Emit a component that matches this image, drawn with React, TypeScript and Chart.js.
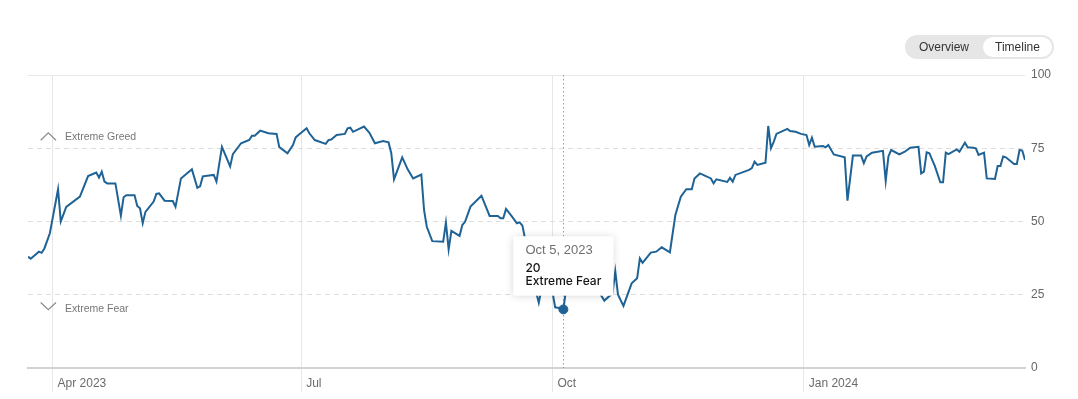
import React, { useEffect, useRef } from "react";
import { Chart, registerables } from "chart.js";

Chart.register(...registerables);

const dates = [
  "2023-03-23", "2023-03-24", "2023-03-27", "2023-03-28", "2023-03-29", "2023-03-31",
  "2023-04-03", "2023-04-04", "2023-04-06", "2023-04-11", "2023-04-14", "2023-04-17",
  "2023-04-18", "2023-04-19", "2023-04-20", "2023-04-21", "2023-04-24", "2023-04-26",
  "2023-04-27", "2023-04-28", "2023-05-01", "2023-05-02", "2023-05-03", "2023-05-04",
  "2023-05-05", "2023-05-08", "2023-05-09", "2023-05-10", "2023-05-12", "2023-05-15",
  "2023-05-16", "2023-05-18", "2023-05-22", "2023-05-24", "2023-05-25", "2023-05-26",
  "2023-05-30", "2023-05-31", "2023-06-02", "2023-06-05", "2023-06-06", "2023-06-09",
  "2023-06-12", "2023-06-13", "2023-06-14", "2023-06-16", "2023-06-19", "2023-06-22",
  "2023-06-23", "2023-06-26", "2023-06-28", "2023-06-29", "2023-06-30", "2023-07-03",
  "2023-07-04", "2023-07-06", "2023-07-10", "2023-07-11", "2023-07-12", "2023-07-14",
  "2023-07-17", "2023-07-18", "2023-07-19", "2023-07-20", "2023-07-24", "2023-07-26",
  "2023-07-28", "2023-07-31", "2023-08-02", "2023-08-03", "2023-08-04", "2023-08-07",
  "2023-08-09", "2023-08-11", "2023-08-14", "2023-08-15", "2023-08-16", "2023-08-18",
  "2023-08-22", "2023-08-23", "2023-08-24", "2023-08-25", "2023-08-28", "2023-08-29",
  "2023-08-30", "2023-09-01", "2023-09-05", "2023-09-08", "2023-09-11", "2023-09-12",
  "2023-09-13", "2023-09-14", "2023-09-16", "2023-09-18", "2023-09-19", "2023-09-20",
  "2023-09-21", "2023-09-22", "2023-09-24", "2023-09-25", "2023-09-26", "2023-09-27",
  "2023-09-29", "2023-10-01", "2023-10-02", "2023-10-04", "2023-10-05", "2023-10-06",
  "2023-10-07", "2023-10-09", "2023-10-11", "2023-10-13", "2023-10-15", "2023-10-17",
  "2023-10-18", "2023-10-20", "2023-10-23", "2023-10-24", "2023-10-25", "2023-10-27",
  "2023-10-30", "2023-11-01", "2023-11-02", "2023-11-03", "2023-11-06", "2023-11-08",
  "2023-11-10", "2023-11-13", "2023-11-15", "2023-11-17", "2023-11-19", "2023-11-21",
  "2023-11-22", "2023-11-24", "2023-11-28", "2023-11-29", "2023-11-30", "2023-12-04",
  "2023-12-05", "2023-12-06", "2023-12-07", "2023-12-12", "2023-12-13", "2023-12-14",
  "2023-12-15", "2023-12-18", "2023-12-19", "2023-12-20", "2023-12-21", "2023-12-22",
  "2023-12-26", "2023-12-27", "2023-12-29", "2023-12-31", "2024-01-02", "2024-01-03",
  "2024-01-04", "2024-01-05", "2024-01-08", "2024-01-09", "2024-01-10", "2024-01-12",
  "2024-01-16", "2024-01-17", "2024-01-19", "2024-01-22", "2024-01-23", "2024-01-24",
  "2024-01-26", "2024-01-30", "2024-01-31", "2024-02-01", "2024-02-02", "2024-02-05",
  "2024-02-07", "2024-02-09", "2024-02-12", "2024-02-13", "2024-02-14", "2024-02-15",
  "2024-02-16", "2024-02-18", "2024-02-20", "2024-02-21", "2024-02-22", "2024-02-23",
  "2024-02-26", "2024-02-27", "2024-02-29", "2024-03-01", "2024-03-03", "2024-03-04",
  "2024-03-05", "2024-03-07", "2024-03-08", "2024-03-11", "2024-03-12", "2024-03-13",
  "2024-03-14", "2024-03-15", "2024-03-18", "2024-03-19", "2024-03-20", "2024-03-21",
  "2024-03-22",
];

const values = [
  38, 37.3, 39.7, 39.3, 40.8, 46,
  61, 50, 55, 58.5, 65.5, 66.7,
  65, 67, 63.6, 63, 63, 52,
  58.3, 59, 59, 55.3, 54.5, 49.4,
  53.3, 56.8, 59.4, 59.6, 57.1, 57,
  55, 64.7, 67.8, 61.5, 62, 65.4,
  65.9, 63.6, 75.5, 68.8, 73, 76.7,
  77.8, 79.3, 79.3, 81, 80.1, 79.9,
  75.4, 73.3, 76.1, 78.7, 79.5, 81.8,
  80.1, 77.8, 76.5, 77.8, 78, 79.5,
  79.9, 81.8, 82, 80.6, 82.4, 80.3,
  76.7, 77.5, 77, 73.3, 64.4, 71.9,
  67.8, 64.7, 66, 53.9, 48.2, 43.3,
  43.1, 49.6, 40.5, 46.8, 45.1, 48.8,
  49.9, 55.1, 58.8, 51.9, 51.9, 51.1,
  51.1, 54.3, 51.9, 49.4, 49.7, 48.6,
  44, 38, 31, 26, 22.3, 27,
  30, 26, 20.7, 20.4, 20, 27,
  29, 31, 30, 32, 29, 28,
  26, 23, 25.5, 33, 25, 21.2,
  28.9, 30.6, 37.4, 35.9, 39.4, 39.7,
  41.2, 39.5, 52.2, 58.5, 61, 61,
  64.7, 66.4, 64.7, 63, 64.4, 63.5,
  64.9, 63.6, 65.9, 67.6, 68.2, 70.4,
  69.3, 70.1, 82.6, 75, 77.2, 79.9,
  81.6, 80.9, 80.6, 79.9, 79.5, 76.1,
  78.6, 75.5, 75.8, 75.3, 76.1, 72.9,
  71.9, 57.1, 72.5, 72.5, 69.9, 72.2,
  73.5, 74.1, 63.9, 72.2, 74.4, 72.9,
  73.8, 75.2, 75.5, 66.4, 67, 73.6,
  73.3, 68.9, 63.4, 63.4, 73.5, 73,
  74.6, 73.8, 76.9, 75.3, 75.2, 75,
  72.7, 73.5, 64.7, 64.5, 68.9, 68.9,
  72.2, 71.9, 69.6, 69.6, 74.4, 74.2,
  71,
];

const tickDates = ["2023-04-01", "2023-07-01", "2023-10-01", "2024-01-01"];
const tickLabels = ["Apr 2023", "Jul", "Oct", "Jan 2024"];
const yTickValues = [0, 25, 50, 75, 100];
const zoneLabels = ["Extreme Greed", "Extreme Fear"];
const activeDate = "2023-10-05";
const toggleLabels = ["Overview", "Timeline"];
const MONTHS = ["Jan", "Feb", "Mar", "Apr", "May", "Jun", "Jul", "Aug", "Sep", "Oct", "Nov", "Dec"];

const LINE = "#1f6396";
const FONT = '"Liberation Sans", Arial, Helvetica, sans-serif';
const BODY_FONT = 'Inter, "Liberation Sans", Arial, sans-serif';
const BASE = Date.UTC(2023, 3, 1);

function parts(s: string) {
  return s.split("-").map(Number);
}
function toDay(s: string) {
  const [y, m, d] = parts(s);
  return Math.round((Date.UTC(y, m - 1, d) - BASE) / 86400000);
}
function fmtDate(s: string) {
  const [y, m, d] = parts(s);
  return `${MONTHS[m - 1]} ${d}, ${y}`;
}
function rating(v: number) {
  if (v < 25) return "Extreme Fear";
  if (v < 45) return "Fear";
  if (v <= 55) return "Neutral";
  if (v <= 75) return "Greed";
  return "Extreme Greed";
}

const points = dates.map((d, i) => ({ x: toDay(d), y: values[i] }));
const tickDays = tickDates.map(toDay);

const overlayPlugin = {
  id: "fgOverlay",
  beforeDatasetsDraw(chart: any) {
    const act = chart.getActiveElements();
    if (!act.length) return;
    const el = chart.getDatasetMeta(0).data[act[0].index];
    const { ctx, chartArea } = chart;
    ctx.save();
    ctx.strokeStyle = "#9a9a9a";
    ctx.lineWidth = 1;
    ctx.setLineDash([1.5, 2.5]);
    const x = Math.round(el.x) + 0.5;
    ctx.beginPath();
    ctx.moveTo(x, chartArea.top);
    ctx.lineTo(x, chartArea.bottom);
    ctx.stroke();
    ctx.restore();
  },
  afterDatasetsDraw(chart: any) {
    const { ctx, chartArea } = chart;
    const ys = chart.scales.y;
    const left = chartArea.left;
    const gY = ys.getPixelForValue(75);
    const fY = ys.getPixelForValue(25);
    ctx.save();
    ctx.strokeStyle = "#8a8a8a";
    ctx.lineWidth = 1.2;
    ctx.beginPath();
    ctx.moveTo(left + 12.7, gY - 8);
    ctx.lineTo(left + 20.3, gY - 15.5);
    ctx.lineTo(left + 28, gY - 8);
    ctx.stroke();
    ctx.beginPath();
    ctx.moveTo(left + 12.7, fY + 7.7);
    ctx.lineTo(left + 20.3, fY + 15);
    ctx.lineTo(left + 28, fY + 7.7);
    ctx.stroke();
    ctx.fillStyle = "#777";
    ctx.font = `10.5px ${FONT}`;
    ctx.textAlign = "left";
    ctx.textBaseline = "middle";
    ctx.fillText(zoneLabels[0], left + 37, gY - 11);
    ctx.fillText(zoneLabels[1], left + 37, fY + 14);
    ctx.restore();
  },
  beforeTooltipDraw(chart: any, args: any) {
    const t = args.tooltip;
    const ctx = chart.ctx;
    ctx.save();
    ctx.shadowColor = "rgba(0,0,0,0.16)";
    ctx.shadowBlur = 8;
    ctx.shadowOffsetY = 1;
    ctx.fillStyle = "#fff";
    ctx.fillRect(t.x, t.y, t.width, t.height);
    ctx.restore();
  },
};

export default function App() {
  const ref = useRef<HTMLCanvasElement>(null);

  useEffect(() => {
    if (!ref.current) return;
    const chart = new Chart(ref.current, {
      type: "line",
      data: {
        datasets: [
          {
            data: points,
            borderColor: LINE,
            backgroundColor: LINE,
            borderWidth: 2,
            pointRadius: 0,
            pointHoverRadius: 4.5,
            pointHoverBackgroundColor: LINE,
            pointHoverBorderColor: LINE,
            pointHoverBorderWidth: 1,
            tension: 0,
          },
        ],
      },
      options: {
        responsive: false,
        animation: false,
        events: [],
        layout: { padding: { left: 28, top: 75, right: 0, bottom: 0 } },
        plugins: {
          legend: { display: false },
          tooltip: {
            enabled: true,
            backgroundColor: "#fff",
            titleColor: "#707070",
            bodyColor: "#151515",
            titleFont: { family: FONT, size: 13, weight: "normal", lineHeight: 1 },
            bodyFont: { family: BODY_FONT, size: 12, weight: "500", lineHeight: 1.08 },
            padding: { top: 7, bottom: 8, left: 12, right: 12 },
            titleMarginBottom: 5,
            bodySpacing: 0,
            caretSize: 0,
            caretPadding: 14,
            cornerRadius: 2,
            displayColors: false,
            xAlign: "center",
            yAlign: "bottom",
            borderWidth: 0,
            callbacks: {
              title: (items: any[]) => fmtDate(dates[items[0].dataIndex]),
              label: (item: any) => [String(Math.round(values[item.dataIndex])), rating(values[item.dataIndex])],
            },
          },
        },
        scales: {
          x: {
            type: "linear",
            min: points[0].x,
            max: points[points.length - 1].x,
            afterBuildTicks: (scale: any) => {
              scale.ticks = tickDays.map((v) => ({ value: v }));
            },
            afterFit: (scale: any) => {
              scale.height = 31;
            },
            ticks: {
              autoSkip: false,
              maxRotation: 0,
              align: "start",
              labelOffset: 5,
              padding: -16,
              color: "#6b6b6b",
              font: { family: FONT, size: 12 },
              callback: (v: any) => {
                const i = tickDays.indexOf(Number(v));
                return i >= 0 ? tickLabels[i] : "";
              },
            },
            grid: {
              color: "#e6e6e6",
              lineWidth: 1,
              drawTicks: true,
              tickLength: 24,
            },
            border: { display: true, color: "#d2d2d2", width: 2 },
          },
          y: {
            position: "right",
            min: 0,
            max: 100,
            afterBuildTicks: (scale: any) => {
              scale.ticks = yTickValues.map((v) => ({ value: v }));
            },
            afterFit: (scale: any) => {
              scale.width = 53;
            },
            ticks: {
              padding: 6,
              color: "#666",
              font: { family: FONT, size: 12 },
            },
            grid: {
              drawTicks: false,
              color: (c: any) =>
                c.tick && c.tick.value === 0 ? "rgba(0,0,0,0)" : c.tick && c.tick.value === 100 ? "#e8e8e8" : "#dedede",
              lineWidth: 1,
            },
            border: {
              display: false,
              dash: (c: any) => (c.tick && (c.tick.value === 100 || c.tick.value === 0) ? [] : [5, 4]),
            },
          },
        },
      },
      plugins: [overlayPlugin],
    } as any);

    const idx = dates.indexOf(activeDate);
    const pt: any = chart.getDatasetMeta(0).data[idx];
    chart.setActiveElements([{ datasetIndex: 0, index: idx }]);
    chart.tooltip!.setActiveElements([{ datasetIndex: 0, index: idx }], { x: pt.x, y: pt.y });
    chart.update();

    return () => chart.destroy();
  }, []);

  return (
    <div
      style={{
        position: "absolute",
        left: 0,
        top: 0,
        width: 1078,
        height: 399,
        background: "#fff",
        fontFamily: FONT,
        overflow: "hidden",
      }}
    >
      <canvas ref={ref} width={1078} height={399} style={{ position: "absolute", left: 0, top: 0, width: 1078, height: 399 }} />
      <div
        style={{
          position: "absolute",
          left: 905,
          top: 35,
          width: 149,
          height: 24,
          borderRadius: 12,
          background: "#e6e6e6",
          fontSize: 12,
          color: "#333",
        }}
      >
        <span style={{ position: "absolute", left: 14, top: 0, lineHeight: "24px" }}>{toggleLabels[0]}</span>
        <div
          style={{
            position: "absolute",
            left: 78,
            top: 2,
            width: 69,
            height: 20,
            borderRadius: 10,
            background: "#fff",
            textAlign: "center",
            lineHeight: "20px",
          }}
        >
          {toggleLabels[1]}
        </div>
      </div>
    </div>
  );
}
